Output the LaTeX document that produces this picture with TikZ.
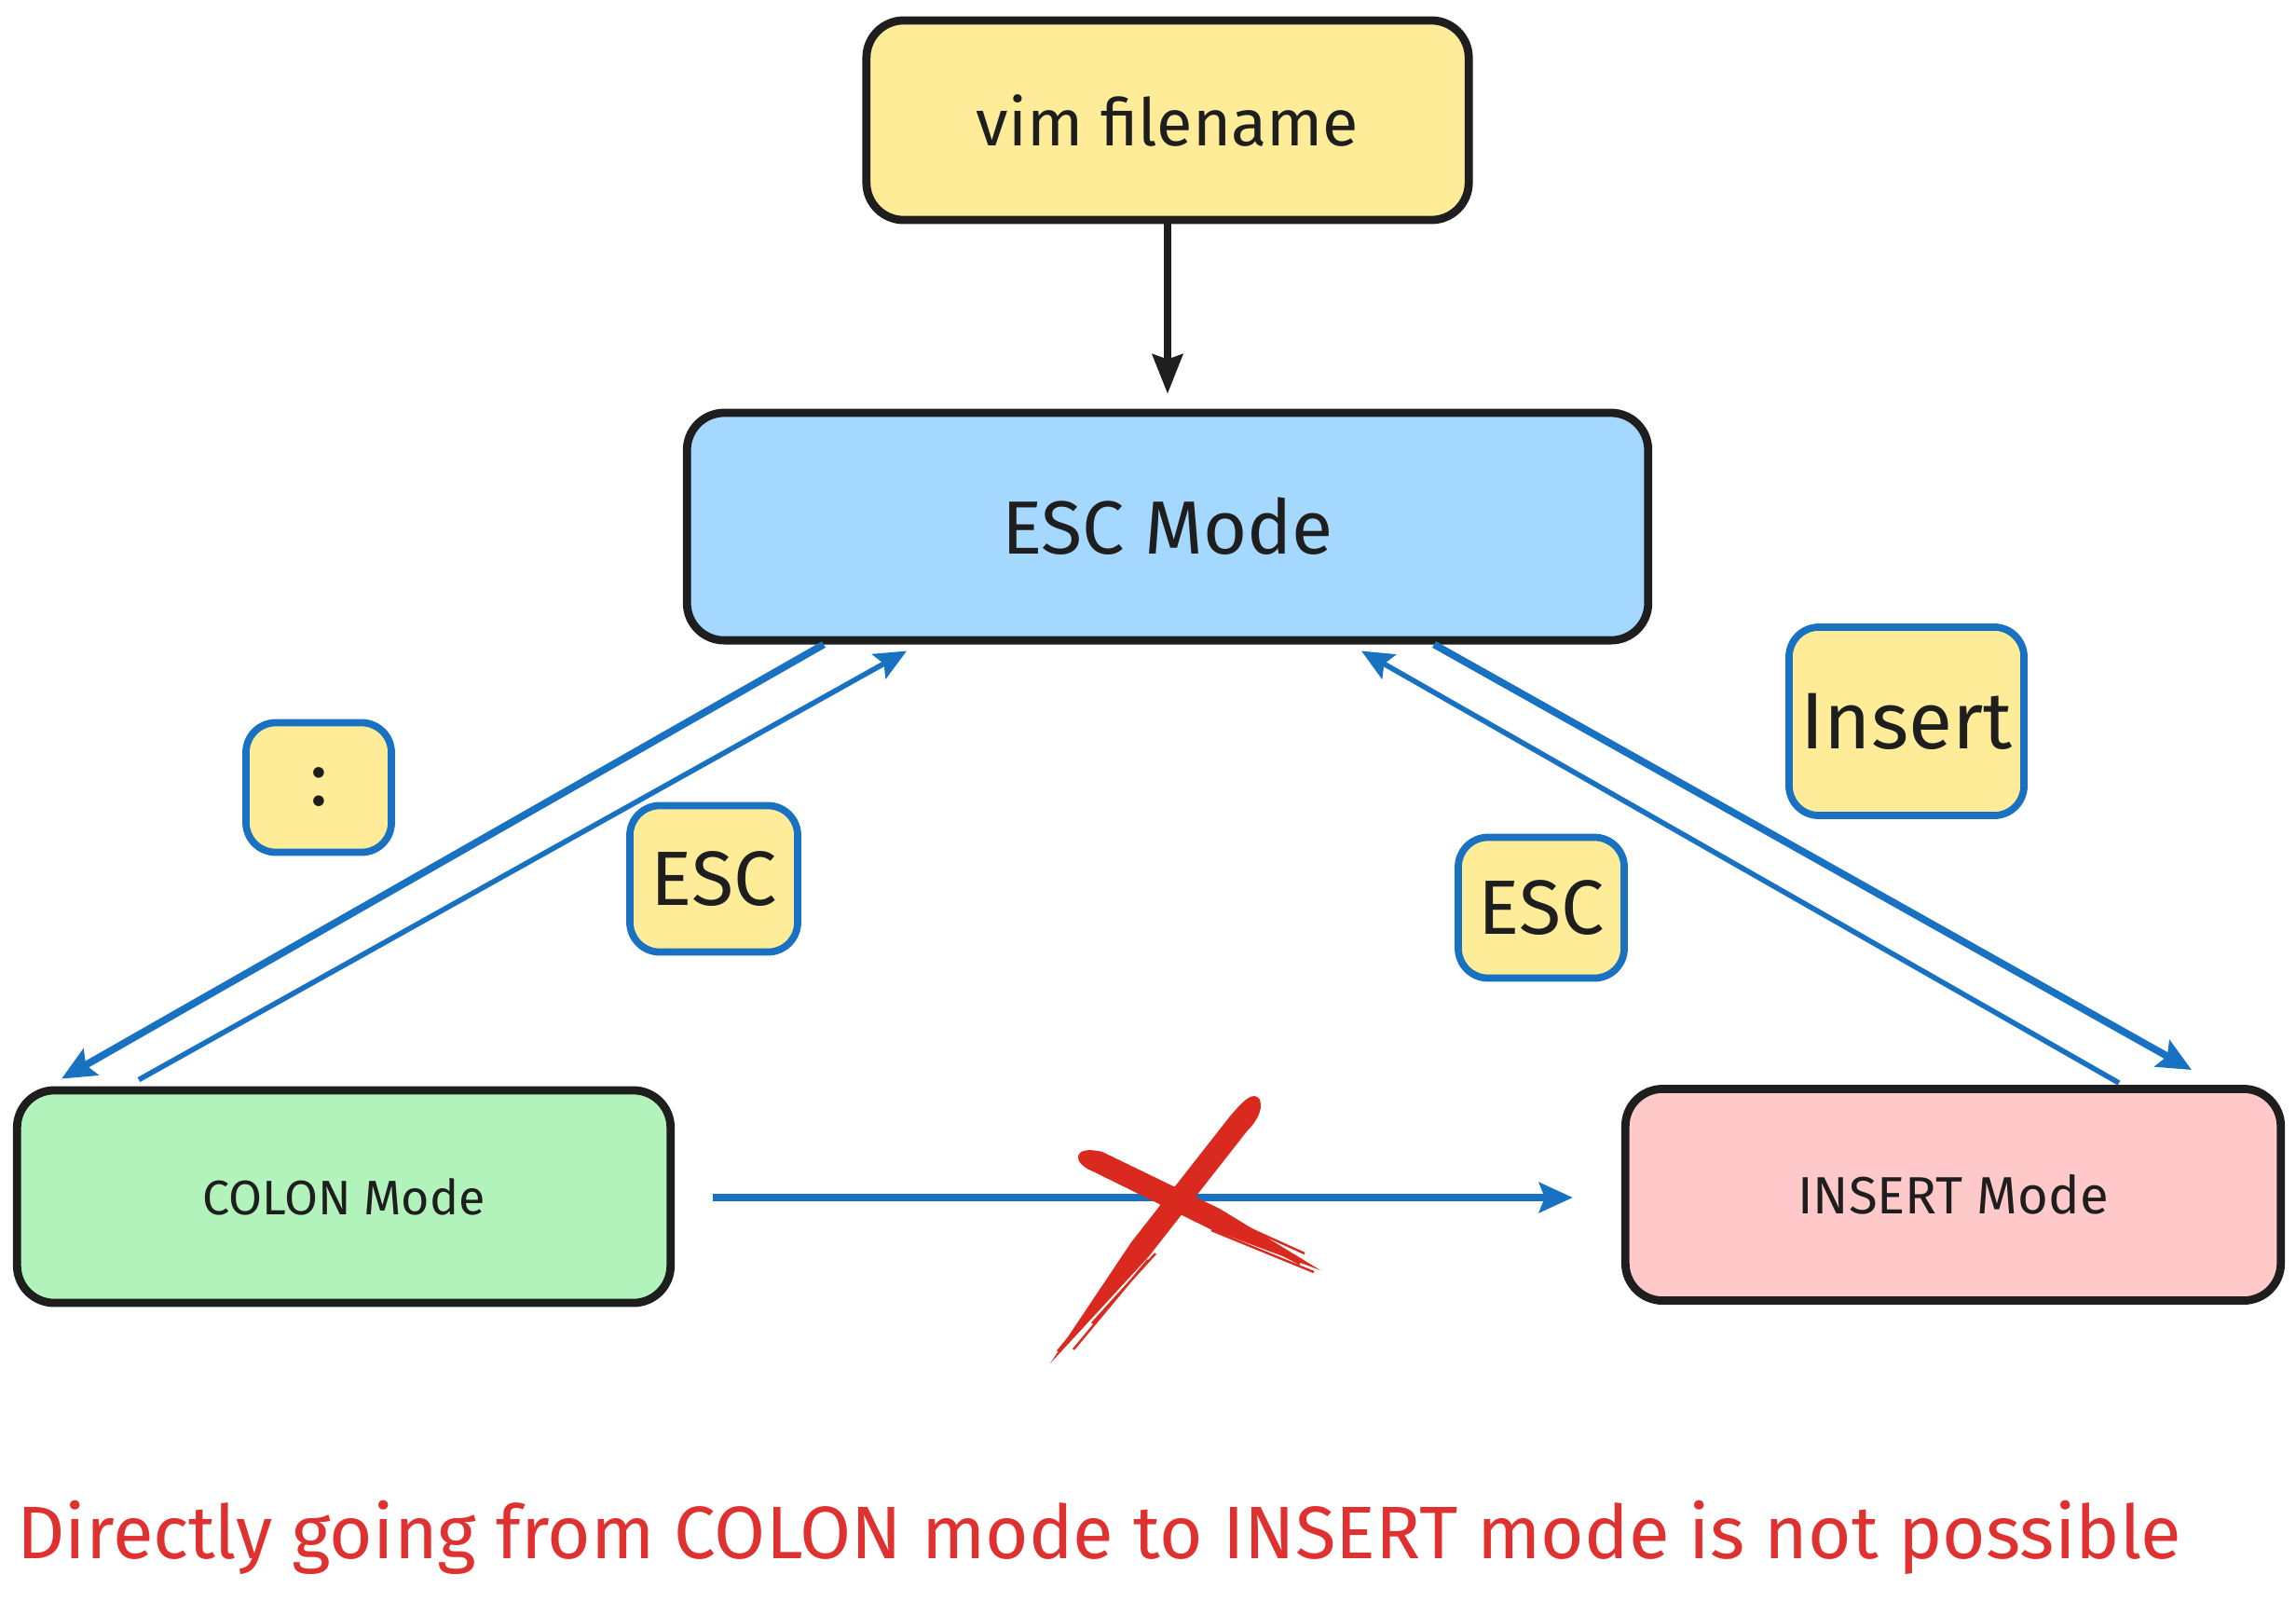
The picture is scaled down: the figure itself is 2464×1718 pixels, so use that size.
\documentclass[tikz,border=0pt]{standalone}
\usepackage{fontspec}
\setmainfont{Fira Sans}
\usepackage{xcolor}
\usepackage{tikz}
\usetikzlibrary{arrows, arrows.meta, positioning, calc}

\definecolor{inkblack}{HTML}{1E1E1E}
\definecolor{keyblue}{HTML}{1971C2}
\definecolor{fillyellow}{HTML}{FFEC99}
\definecolor{fillblue}{HTML}{A5D8FF}
\definecolor{fillgreen}{HTML}{B2F2BB}
\definecolor{fillred}{HTML}{FFC9C9}
\definecolor{crossred}{HTML}{DA2A1F}
\definecolor{notered}{HTML}{E03131}

\begin{document}
\begin{tikzpicture}[
    x=0.01cm, y=-0.01cm,
    mode/.style={rectangle, draw=inkblack, line width=2.5pt, rounded corners=0.4cm, align=center, text=inkblack, inner sep=0pt},
    key/.style={rectangle, draw=keyblue, line width=2.2pt, fill=fillyellow, rounded corners=0.32cm, align=center, text=inkblack, inner sep=0pt, font=\fontsize{23.5}{28}\selectfont},
    arrow/.style={line width=2.2pt, ->, >={Stealth[length=0.36cm, width=0.32cm, inset=0.06cm]}, draw=keyblue},
    thinarrow/.style={line width=1.6pt, ->, >={Stealth[length=0.34cm, width=0.3cm, inset=0.06cm]}, draw=keyblue},
    blackarrow/.style={line width=2.4pt, ->, >={Stealth[length=0.42cm, width=0.32cm, inset=0.05cm]}, draw=inkblack}
]
\useasboundingbox (0,0) rectangle (2464,1718);

\node (vim) [mode, fill=fillyellow, minimum width=6.46cm, minimum height=2.14cm, font=\fontsize{20}{24}\selectfont] at (1253,129) {vim filename};
\node (esc) [mode, fill=fillblue, minimum width=10.31cm, minimum height=2.44cm, font=\fontsize{23}{27}\selectfont, below=1.98cm of vim] {ESC Mode};
\node (colon) [mode, fill=fillgreen, minimum width=7.01cm, minimum height=2.28cm, font=\fontsize{14.8}{17}\selectfont] at (369,1284) {COLON Mode};
\node (insert) [mode, fill=fillred, minimum width=7.03cm, minimum height=2.27cm, font=\fontsize{16}{19}\selectfont] at (2096,1282) {INSERT Mode};

\node (colonkey) [key, minimum width=1.56cm, minimum height=1.39cm] at (342,845) {:};
\node (esckeyl) [key, minimum width=1.80cm, minimum height=1.57cm] at (766,943) {ESC};
\node (esckeyr) [key, minimum width=1.78cm, minimum height=1.51cm] at (1654,974) {ESC};
\node (insertkey) [key, minimum width=2.52cm, minimum height=2.02cm, font=\fontsize{24.5}{29}\selectfont] at (2046,774) {Insert};

\draw [blackarrow, shorten >=0.16cm] (vim.south) -- (vim.south |- esc.north);
\draw [arrow] ($(esc.south)+(-369,0)$) -- ($(colon.north)+(-303,-8)$);
\draw [thinarrow] ($(colon.north)+(-220,-7)$) -- ($(esc.south)+(-280,7)$);
\draw [arrow] ($(esc.south)+(286,0)$) -- ($(insert.north)+(256,-16)$);
\draw [thinarrow] ($(insert.north)+(178,-2)$) -- ($(esc.south)+(208,7)$);
\draw [arrow] ($(colon.east)+(41,1)$) -- ($(insert.west)+(-52,3)$);

\fill [crossred] (1127,1463) -- (1214,1333) -- (1319,1199) .. controls (1335,1180) and (1345,1170) .. (1352,1180) .. controls (1356,1192) and (1347,1205) .. (1338,1214) -- (1233,1348) -- cycle;
\fill [crossred] (1173,1257) .. controls (1150,1248) and (1150,1228) .. (1183,1236) -- (1309,1297) -- (1417,1363) -- (1299,1319) -- cycle;
\draw [crossred, line width=0.7pt] (1222,1345) -- (1135,1450) (1232,1352) -- (1152,1448) (1240,1345) -- (1172,1420) (1305,1302) -- (1400,1345) (1310,1312) -- (1395,1356) (1300,1320) -- (1410,1365);

\node (note) [text=notered, font=\fontsize{22.7}{27}\selectfont] at (1180,1650) {Directly going from COLON mode to INSERT mode is not possible};
\end{tikzpicture}
\end{document}
